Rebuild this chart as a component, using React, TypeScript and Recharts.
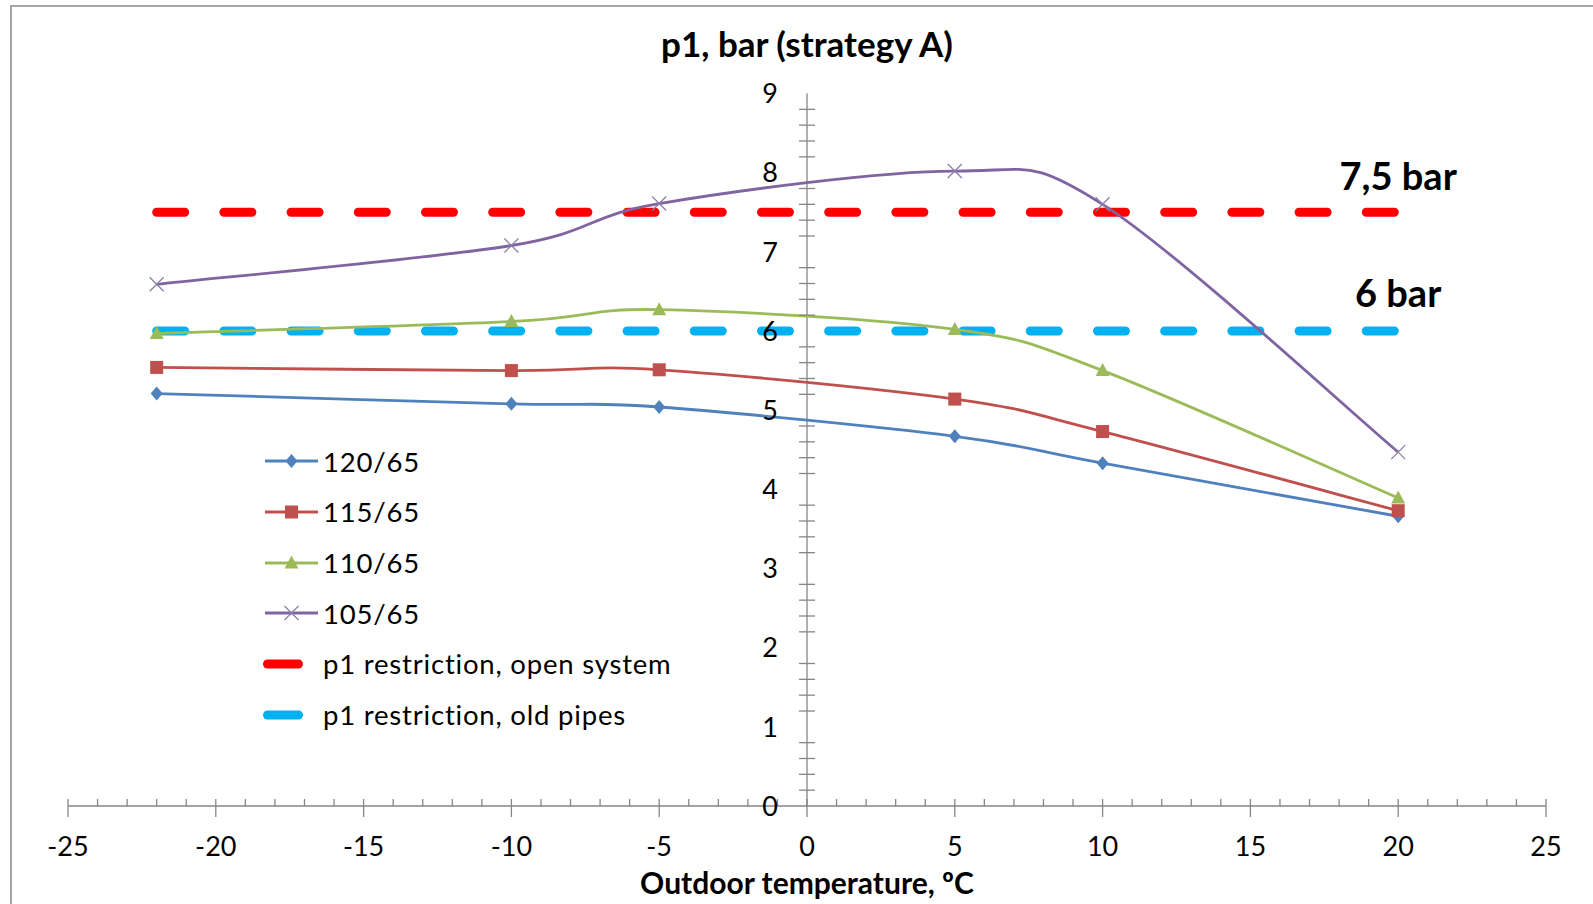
import React from 'react';
import {
  ComposedChart,
  Line,
  Scatter,
  XAxis,
  YAxis,
  CartesianGrid,
  ReferenceLine,
  Legend,
} from 'recharts';

// ---- data ----
const temperatures = [-22, -10, -5, 5, 10, 20];
const p120_65 = [5.21, 5.08, 5.04, 4.67, 4.33, 3.66];
const p115_65 = [5.54, 5.5, 5.51, 5.14, 4.73, 3.73];
const p110_65 = [5.97, 6.12, 6.27, 6.02, 5.5, 3.89];
const p105_65 = [6.59, 7.08, 7.61, 8.02, 7.6, 4.47];
const openSystemLimit = [7.5, 7.5, 7.5, 7.5, 7.5, 7.5];
const oldPipesLimit = [6, 6, 6, 6, 6, 6];

const seriesNames = ['120/65', '115/65', '110/65', '105/65', 'p1 restriction, open system', 'p1 restriction, old pipes'];
const xTicks = [-25, -20, -15, -10, -5, 0, 5, 10, 15, 20, 25];
const yTicks = [0, 1, 2, 3, 4, 5, 6, 7, 8, 9];
const gridValues = [1, 2, 3, 4, 5, 6, 7, 8, 9];
const annotations = [
  { x: 20, y: 7.96, text: '7,5 bar' },
  { x: 20, y: 6.47, text: '6 bar' },
];
const titleText = 'p1, bar (strategy A)';
const xTitleText = 'Outdoor temperature, ºC';

const COLORS = ['#4F81BD', '#C0504D', '#9BBB59', '#8064A2', '#FF0000', '#00B0F0'];
const FONT = 'Lato, "Liberation Sans", sans-serif';

const table = temperatures.map((t, i) => ({
  x: t,
  s120: p120_65[i],
  s115: p115_65[i],
  s110: p110_65[i],
  s105: p105_65[i],
  open: openSystemLimit[i],
  old: oldPipesLimit[i],
}));

const yLabelData = yTicks.map((v) => ({ x: 0, y: v, label: String(v) }));
const xMinorData: { x: number; y: number }[] = [];
for (let v = -25; v <= 25; v += 1) xMinorData.push({ x: v, y: 0 });
const yMinorData: { x: number; y: number }[] = [];
for (let k = 1; k < 45; k += 1) if (k % 5 !== 0) yMinorData.push({ x: 0, y: k / 5 });

// Excel-like smoothing (Catmull-Rom as cubic Bezier)
const smoothCurve: any = (context: any) => {
  let pts: number[][] = [];
  return {
    areaStart() {},
    areaEnd() {},
    lineStart() {
      pts = [];
    },
    point(x: number, y: number) {
      pts.push([+x, +y]);
    },
    lineEnd() {
      if (!pts.length) return;
      context.moveTo(pts[0][0], pts[0][1]);
      for (let i = 0; i < pts.length - 1; i++) {
        const p0 = pts[i - 1] || pts[i];
        const p1 = pts[i];
        const p2 = pts[i + 1];
        const p3 = pts[i + 2] || pts[i + 1];
        context.bezierCurveTo(
          p1[0] + (p2[0] - p0[0]) / 6,
          p1[1] + (p2[1] - p0[1]) / 6,
          p2[0] - (p3[0] - p1[0]) / 6,
          p2[1] - (p3[1] - p1[1]) / 6,
          p2[0],
          p2[1]
        );
      }
    },
  };
};

const markerShape = (kind: string, color: string, cx: number, cy: number, key?: string) => {
  if (kind === 'diamond')
    return <path key={key} d={`M${cx},${cy - 7}L${cx + 6},${cy}L${cx},${cy + 7}L${cx - 6},${cy}Z`} fill={color} />;
  if (kind === 'square')
    return <rect key={key} x={cx - 6.5} y={cy - 6.5} width={13} height={13} fill={color} />;
  if (kind === 'triangle')
    return <path key={key} d={`M${cx},${cy - 7.5}L${cx + 7},${cy + 5.5}L${cx - 7},${cy + 5.5}Z`} fill={color} />;
  return (
    <g key={key} stroke="#8B80A8" strokeWidth={1.3}>
      <line x1={cx - 7} y1={cy - 7} x2={cx + 7} y2={cy + 7} />
      <line x1={cx - 7} y1={cy + 7} x2={cx + 7} y2={cy - 7} />
    </g>
  );
};

const makeDot = (kind: string, color: string, name: string) => (p: any) => {
  if (p.cx == null || p.cy == null) return <g key={`${name}-${p.index}`} />;
  return markerShape(kind, color, p.cx, p.cy, `${name}-${p.index}`);
};

const markerKinds = ['diamond', 'square', 'triangle', 'cross'];

const renderLegend = () => (
  <div style={{ fontFamily: FONT, fontSize: 27.5, letterSpacing: 0.8, color: '#000' }}>
    {seriesNames.map((name, i) => (
      <div key={name} style={{ height: 50.7, display: 'flex', alignItems: 'center' }}>
        <svg width={60} height={30} style={{ display: 'block' }}>
          {i < 4 ? (
            <>
              <line x1={2} y1={15} x2={55} y2={15} stroke={COLORS[i]} strokeWidth={3} />
              {markerShape(markerKinds[i], COLORS[i], 28.5, 15)}
            </>
          ) : (
            <line x1={4.5} y1={15} x2={35.5} y2={15} stroke={COLORS[i]} strokeWidth={9} strokeLinecap="round" />
          )}
        </svg>
        <span style={{ whiteSpace: 'nowrap', lineHeight: 1 }}>{name}</span>
      </div>
    ))}
  </div>
);

export default function App() {
  return (
    <div style={{ position: 'fixed', left: 0, top: 0, width: 1593, height: 904, overflow: 'hidden', background: '#fff' }}>
      <div
        style={{
          position: 'absolute',
          left: 10,
          top: 5,
          width: 1640,
          height: 960,
          borderLeft: '2px solid #a6a6a6',
          borderTop: '2px solid #a6a6a6',
        }}
      />
      <div
        style={{
          position: 'absolute',
          left: 807,
          top: 43,
          transform: 'translate(-50%, -50%)',
          fontFamily: FONT,
          fontWeight: 700,
          fontSize: 35,
          whiteSpace: 'nowrap',
          color: '#000',
        }}
      >
        {titleText}
      </div>
      <div
        style={{
          position: 'absolute',
          left: 807,
          top: 882,
          transform: 'translate(-50%, -50%)',
          fontFamily: FONT,
          fontWeight: 700,
          fontSize: 30,
          whiteSpace: 'nowrap',
          color: '#000',
        }}
      >
        {xTitleText}
      </div>
      <div style={{ position: 'absolute', left: 0, top: 0 }}>
        <ComposedChart
          width={1593}
          height={904}
          data={table}
          margin={{ top: 93.5, right: 47, bottom: 28, left: 68 }}
        >
          <CartesianGrid vertical={false} horizontalValues={gridValues} stroke="#868686" strokeWidth={1.3} />
          <XAxis
            dataKey="x"
            type="number"
            domain={[-25, 25]}
            ticks={xTicks}
            height={70}
            stroke="#868686"
            tickSize={11}
            tickMargin={20}
            tick={{ fontSize: 27, fill: '#000', fontFamily: FONT }}
            axisLine={{ stroke: '#868686', strokeWidth: 1.3 }}
            tickLine={{ stroke: '#868686', strokeWidth: 1.3 }}
          />
          <YAxis
            type="number"
            domain={[0, 9]}
            ticks={yTicks}
            width={0}
            tick={false}
            axisLine={false}
            tickLine={false}
          />
          <ReferenceLine x={0} stroke="#868686" strokeWidth={1.3} />
          <Scatter
            data={xMinorData}
            dataKey="y"
            isAnimationActive={false}
            legendType="none"
            shape={(p: any) => (
              <line x1={p.cx} y1={p.cy - 7} x2={p.cx} y2={p.cy} stroke="#868686" strokeWidth={1.3} />
            )}
          />
          <Scatter
            data={yMinorData}
            dataKey="y"
            isAnimationActive={false}
            legendType="none"
            shape={(p: any) => (
              <line x1={p.cx - 8} y1={p.cy} x2={p.cx + 8} y2={p.cy} stroke="#868686" strokeWidth={1.3} />
            )}
          />
          <Scatter
            data={yLabelData}
            dataKey="y"
            isAnimationActive={false}
            legendType="none"
            shape={(p: any) => (
              <text
                x={p.cx - 29}
                y={p.cy}
                dy="0.36em"
                textAnchor="end"
                fontSize={27}
                fontFamily={FONT}
                fill="#000"
              >
                {p.payload.label}
              </text>
            )}
          />
          <Line
            dataKey="open"
            type="linear"
            stroke={COLORS[4]}
            strokeWidth={9}
            strokeLinecap="round"
            strokeDasharray="28 39.2"
            dot={false}
            activeDot={false}
            isAnimationActive={false}
          />
          <Line
            dataKey="old"
            type="linear"
            stroke={COLORS[5]}
            strokeWidth={9}
            strokeLinecap="round"
            strokeDasharray="28 39.2"
            dot={false}
            activeDot={false}
            isAnimationActive={false}
          />
          <Line dataKey="s120" type={smoothCurve} stroke={COLORS[0]} strokeWidth={2.8} dot={makeDot('diamond', COLORS[0], 's120')} activeDot={false} isAnimationActive={false} />
          <Line dataKey="s115" type={smoothCurve} stroke={COLORS[1]} strokeWidth={2.8} dot={makeDot('square', COLORS[1], 's115')} activeDot={false} isAnimationActive={false} />
          <Line dataKey="s110" type={smoothCurve} stroke={COLORS[2]} strokeWidth={2.8} dot={makeDot('triangle', COLORS[2], 's110')} activeDot={false} isAnimationActive={false} />
          <Line dataKey="s105" type={smoothCurve} stroke={COLORS[3]} strokeWidth={2.8} dot={makeDot('cross', COLORS[3], 's105')} activeDot={false} isAnimationActive={false} />
          <Scatter
            data={annotations}
            dataKey="y"
            isAnimationActive={false}
            legendType="none"
            shape={(p: any) => (
              <text
                x={p.cx}
                y={p.cy}
                dy="0.36em"
                textAnchor="middle"
                fontSize={38}
                fontWeight={700}
                fontFamily={FONT}
                fill="#000"
              >
                {p.payload.text}
              </text>
            )}
          />
          <Legend
            layout="vertical"
            align="center"
            verticalAlign="middle"
            content={renderLegend}
            wrapperStyle={{ position: 'absolute', left: 263, top: 436, width: 480, height: 310 }}
          />
        </ComposedChart>
      </div>
    </div>
  );
}
